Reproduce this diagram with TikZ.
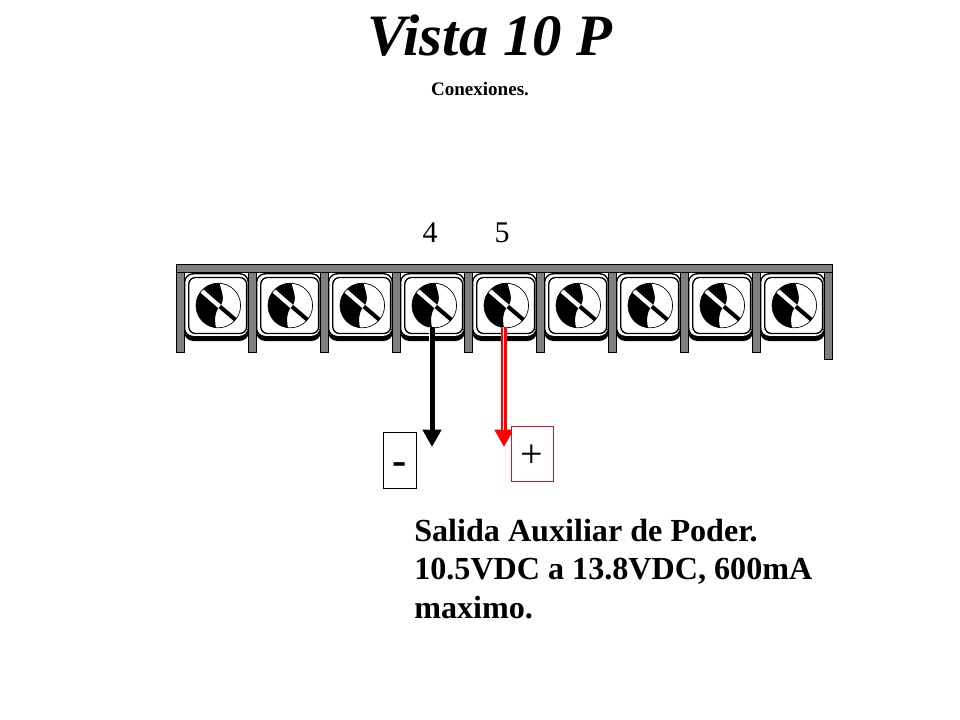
\documentclass[tikz,border=0pt]{standalone}
\usepackage{fontspec}
\setmainfont{Liberation Serif}
\usetikzlibrary{arrows.meta}
\definecolor{postgray}{RGB}{128,128,128}
\definecolor{boxred}{RGB}{200,30,30}
\tikzset{
  post/.style={draw=black,line width=0.4pt,fill=postgray},
  lab/.style={inner sep=0pt,font=\fontsize{22.5}{26}\selectfont},
  signbox/.style={draw=black,line width=0.6pt,fill=white,inner sep=0pt,font=\fontsize{27}{30}\selectfont}
}
\newcommand{\termscrew}[2]{%
  \begin{scope}[shift={(#1,#2)}]
    % housing
    \fill[black,rounded corners=7] (-34.3,-32.5) rectangle (30.7,35.5);
    \fill[white,rounded corners=6] (-33,-31) rectangle (29.3,30.3);
    \draw[black,line width=1.0pt,rounded corners=5] (-29.5,-28) rectangle (28.3,28);
    % screw
    \fill[white] (0,0) circle (22.3);
    \begin{scope}
      \clip (0,0) circle (22.3);
      \draw[black,line width=3pt] (-16,-14) -- (18,15);
      \fill[black] (-24,-24) -- (1,-24) .. controls (2,-16) and (7,-9) .. (3,-1)
        .. controls (-2,4) and (-5,11) .. (-2,24) -- (-24,24) -- cycle;
      \clip (-24,-24) -- (1,-24) .. controls (2,-16) and (7,-9) .. (3,-1)
        .. controls (-2,4) and (-5,11) .. (-2,24) -- (-24,24) -- cycle;
      \draw[white,line width=3.2pt] (-17,-15) -- (6,5);
    \end{scope}
    \draw[black,line width=0.5pt] (0,0) circle (22.3);
  \end{scope}}
\begin{document}
\begin{tikzpicture}[x=0.75pt,y=-0.75pt]
\useasboundingbox (0,0) rectangle (960,720);
\fill[white] (0,0) rectangle (960,720);
\foreach \i in {0,...,8} { \termscrew{218.3+72*\i}{305.5} }
\foreach \i in {0,...,8} { \draw[post] (176+72*\i,272) rectangle (184+72*\i,352); }
\draw[post] (824,272) rectangle (832,359.5);
\draw[post] (176,264.5) rectangle (832.5,272.5);
\node[lab] (n4) at (430,233) {4};
\node[lab] (n5) at (502,233) {5};
\coordinate (w4) at (432,327);
\coordinate (w5) at (504,327);
\coordinate (e4) at (432,447);
\coordinate (e5) at (504,447);
\draw[black,line width=4.5pt,-{Triangle[length=13pt,width=13.5pt]}] (w4) -- (e4);
\draw[red,line width=4.5pt,-{Triangle[length=13pt,width=13.5pt]}] (w5) -- (e5);
\draw[white,line width=0.8pt] ([xshift=-1.6pt]w4) -- ++(0,103);
\draw[white,line width=0.8pt] ([xshift=-0.6pt]w5) -- ++(0,103);
\node[signbox,minimum width=25pt,minimum height=42pt,font=\fontsize{32}{32}\bfseries\selectfont] (minus) at (400,460) {\raisebox{-11pt}[0pt][0pt]{-}};
\node[signbox,draw=boxred,line width=0.5pt,minimum width=31.5pt,minimum height=41pt,font=\fontsize{30}{30}\selectfont] (plus) at (532,453.5) {\raisebox{-10.5pt}[0pt][0pt]{+}};
\node[inner sep=0pt,font=\fontsize{44}{48}\bfseries\itshape\selectfont] (title) at (490,36) {Vista 10 P};
\node[inner sep=0pt,font=\fontsize{14.3}{16}\bfseries\selectfont] (sub) at (480,89) {Conexiones.};
\node[inner sep=0pt,anchor=north west,align=left,font=\fontsize{24.1}{28.8}\bfseries\selectfont] (desc) at (414,519) {Salida Auxiliar de Poder.\\10.5VDC a 13.8VDC, 600mA\\maximo.};
\end{tikzpicture}
\end{document}
